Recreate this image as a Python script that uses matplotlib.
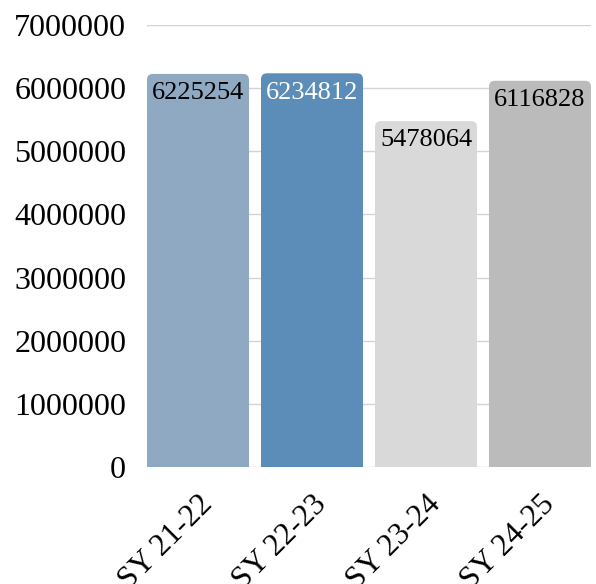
import matplotlib
matplotlib.use("Agg")
import matplotlib.pyplot as plt
import matplotlib.transforms as mtransforms
from matplotlib.patches import FancyBboxPatch

# data
years  = ["SY 21-22", "SY 22-23", "SY 23-24", "SY 24-25"]
totals = [6225254, 6234812, 5478064, 6116828]

# style
BAR_COLORS   = ["#8ea9c1", "#5b8db8", "#d9d9d9", "#bbbbbb"]
LABEL_COLORS = ["#000000", "#ffffff", "#000000", "#000000"]
GRID_C = "#d4d4d4"
FONT = "Liberation Serif"
BAR_W = 0.895

fig = plt.figure(figsize=(5.96, 5.84), dpi=100)
ax = fig.add_axes([147 / 596, 1 - 467 / 584, 444 / 596, 442 / 584])

ax.set_xlim(-BAR_W / 2, len(years) - 1 + BAR_W / 2)
ax.set_ylim(0, 7000000)
ax.set_yticks(range(0, 7000001, 1000000))
ax.set_yticklabels([str(v) for v in range(0, 7000001, 1000000)],
                   fontsize=23, family=FONT)
ax.set_xticks(range(len(years)))
ax.set_xticklabels(years, fontsize=22.5, family=FONT, rotation=45,
                   ha="right", va="center", rotation_mode="anchor")
ax.tick_params(axis="y", length=0, pad=15)
ax.tick_params(axis="x", length=0, pad=24)
# nudge the rotated labels right a bit
shift = mtransforms.ScaledTranslation(10 / 100, 0, fig.dpi_scale_trans)
for lbl in ax.get_xticklabels():
    lbl.set_transform(lbl.get_transform() + shift)
for s in ax.spines.values():
    s.set_visible(False)
ax.yaxis.grid(True, color=GRID_C, lw=1)
ax.set_axisbelow(True)

# invisible bars to get geometry, then rounded patches on top
bars = ax.bar(range(len(years)), totals, width=BAR_W, alpha=0)

# aspect: y data units per x data unit in screen space
x_px = ax.transData.transform((1, 0))[0] - ax.transData.transform((0, 0))[0]
y_px = ax.transData.transform((0, 1e6))[1] - ax.transData.transform((0, 0))[1]
aspect = (1e6 / y_px) / (1 / x_px)
r = 6 / x_px

for b, col, lc, v in zip(bars, BAR_COLORS, LABEL_COLORS, totals):
    x0 = b.get_x()
    w = b.get_width()
    h = b.get_height()
    ax.add_patch(FancyBboxPatch(
        (x0, -r * aspect * 2), w, h + r * aspect * 2,
        boxstyle=f"round,pad=0,rounding_size={r}",
        mutation_aspect=aspect,
        facecolor=col, edgecolor="none", zorder=2, clip_on=True,
    ))
    ax.annotate(str(v), (x0 + w / 2, h), xytext=(0, -6),
                textcoords="offset points", ha="center", va="top",
                fontsize=19, family=FONT, color=lc, zorder=3)

fig.savefig("out.png", dpi=100)
